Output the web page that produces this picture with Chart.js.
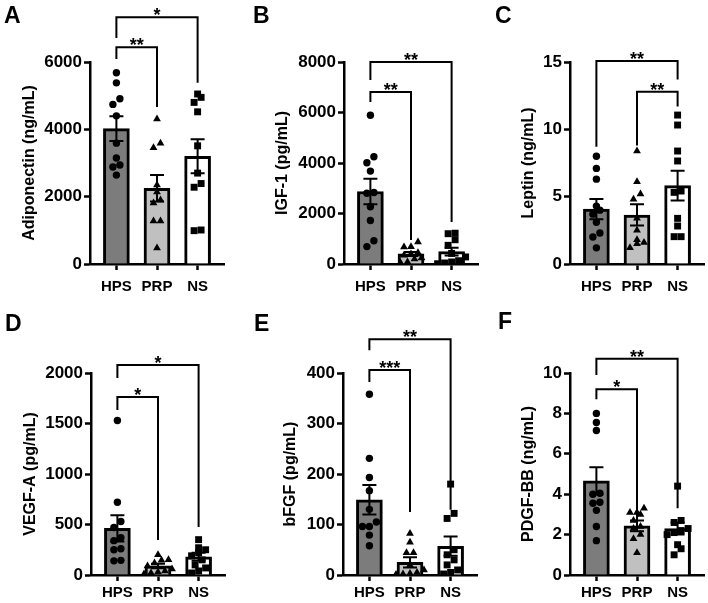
<!DOCTYPE html>
<html>
<head>
<meta charset="utf-8">
<script src="https://cdn.jsdelivr.net/npm/chart.js@4"></script>
<style>
html, body { margin: 0; padding: 0; background: #fff; overflow: hidden; }
#fig { position: relative; width: 708px; height: 603px; }
canvas { position: absolute; }
.tag { position: absolute; font: bold 23px "Liberation Sans", Arial, sans-serif; line-height: 23px; color: #000; }
</style>
</head>
<body>
<div id="fig"></div>
<script>
// --- Data ---
const groups = ['HPS', 'PRP', 'NS'];
const panelTags = ['A', 'B', 'C', 'D', 'E', 'F'];
const yTitles = ['Adiponectin (ng/mL)', 'IGF-1 (pg/mL)', 'Leptin (ng/mL)', 'VEGF-A (pg/mL)', 'bFGF (pg/mL)', 'PDGF-BB (ng/mL)'];
const yMax = [6000, 8000, 15, 2000, 400, 10];
const yStep = [2000, 2000, 5, 500, 100, 2];

// bar height = mean, error bar = SEM
const means = [
    [4020, 2250, 3200],
    [2870, 400, 490],
    [4.08, 3.64, 5.82],
    [461, 90, 181],
    [149, 25, 57],
    [4.66, 2.43, 2.3]
];
const sems = [
    [367, 396, 505],
    [505, 80, 150],
    [0.75, 0.79, 1.1],
    [130, 22, 40],
    [29, 10, 19],
    [0.68, 0.27, 0.3]
];

// individual samples per group (HPS, PRP, NS)
const adiponectin = [
    [5680, 5380, 4910, 4740, 4400, 3590, 3150, 2940, 2880, 2640],
    [4306, 3585, 3455, 2346, 2138, 1900, 1811, 1277, 1277, 475],
    [5050, 4950, 4800, 4520, 3510, 2700, 2390, 2280, 1010, 990]
];
const igf1 = [
    [5890, 4250, 4010, 3680, 2830, 2800, 2270, 1720, 920, 690],
    [870, 680, 670, 450, 400, 350, 240, 200, 80, 50],
    [1220, 1200, 960, 740, 420, 280, 130, 80, 40, 10]
];
const leptin = [
    [8.0, 7.1, 6.3, 4.3, 4.0, 3.7, 3.1, 2.3, 2.0, 1.2],
    [8.4, 6.1, 5.2, 4.8, 3.4, 2.5, 1.8, 1.6, 1.5, 1.2],
    [11.06, 10.32, 8.39, 7.65, 5.42, 5.32, 3.39, 2.82, 2.03, 2.03]
];
const vegfa = [
    [1530, 720, 530, 470, 370, 340, 260, 250, 145, 140],
    [200, 150, 145, 120, 90, 60, 40, 30, 20, 10],
    [350, 270, 250, 220, 190, 150, 100, 70, 40, 20]
];
const bfgf = [
    [358, 231, 193, 167, 130, 105, 96, 96, 79, 58],
    [82, 65, 44, 44, 20, 10, 5, 3, 2, 1],
    [180, 122, 112, 50, 40, 30, 20, 10, 5, 2]
];
const pdgfbb = [
    [8.0, 7.55, 7.15, 4.05, 4.0, 3.6, 3.55, 3.2, 2.4, 1.7],
    [3.3, 3.1, 3.1, 3.0, 2.7, 2.4, 2.3, 2.0, 1.8, 1.1],
    [4.4, 2.7, 2.6, 2.3, 2.2, 2.1, 2.0, 1.5, 1.3, 1.0]
];
const samples = [adiponectin, igf1, leptin, vegfa, bfgf, pdgfbb];

// significance brackets: groups joined, bracket level, leg ends (data units), label
const brackets = [
    [{ from: 0, to: 1, y: 6440, left: 6090, right: 4660, label: '**' }, { from: 0, to: 2, y: 7330, left: 6710, right: 5380, label: '*' }],
    [{ from: 0, to: 1, y: 6810, left: 6415, right: 950, label: '**' }, { from: 0, to: 2, y: 8000, left: 7290, right: 1660, label: '**' }],
    [{ from: 1, to: 2, y: 12.8, left: 8.8, right: 11.7, label: '**' }, { from: 0, to: 2, y: 15.07, left: 8.7, right: 13.7, label: '**' }],
    [{ from: 0, to: 1, y: 1762, left: 1634, right: 347, label: '*' }, { from: 0, to: 2, y: 2079, left: 1950, right: 475, label: '*' }],
    [{ from: 0, to: 1, y: 406, left: 382, right: 125, label: '***' }, { from: 0, to: 2, y: 467, left: 445, right: 129, label: '**' }],
    [{ from: 0, to: 1, y: 9.2, left: 8.7, right: 2.2, label: '*' }, { from: 0, to: 2, y: 10.7, left: 9.9, right: 3.3, label: '**' }]
];

// --- Styling / layout ---
const FONT = '"Liberation Sans", Arial, sans-serif';
const barColors = ['#7c7c7c', '#c0c0c0', '#ffffff'];
const markerStyles = ['circle', 'triangle', 'rect'];
const markerSizes = [3.7, 4.5, 4.9];
const axisLeft = [90, 344, 570, 91, 343, 570];
const titleCenter = [30, 283, 529, 31, 291, 529];
const tagPos = [[4, 4], [253, 4], [495, 4], [5, 312], [254, 312], [498, 310]];
const CANVAS_W = 250;
const AXIS_LEN = 134;

// error bars + significance brackets drawn on top of the datasets
const extrasPlugin = {
    id: 'extras',
    afterDatasetsDraw(chart, args, opts) {
        const { ctx, scales: { x, y } } = chart;
        ctx.save();
        ctx.strokeStyle = '#000';
        ctx.fillStyle = '#000';
        ctx.lineWidth = 2;
        opts.means.forEach((m, i) => {
            const cx = x.getPixelForValue(i);
            const hi = y.getPixelForValue(m + opts.sems[i]);
            const lo = y.getPixelForValue(m - opts.sems[i]);
            ctx.beginPath();
            ctx.moveTo(cx, hi); ctx.lineTo(cx, lo);
            ctx.moveTo(cx - 7, hi); ctx.lineTo(cx + 7, hi);
            ctx.moveTo(cx - 7, lo); ctx.lineTo(cx + 7, lo);
            ctx.stroke();
        });
        ctx.font = 'bold 18px ' + FONT;
        ctx.textAlign = 'center';
        ctx.textBaseline = 'alphabetic';
        opts.brackets.forEach(b => {
            const x1 = x.getPixelForValue(b.from), x2 = x.getPixelForValue(b.to);
            const yy = y.getPixelForValue(b.y);
            ctx.beginPath();
            ctx.moveTo(x1, y.getPixelForValue(b.left));
            ctx.lineTo(x1, yy);
            ctx.lineTo(x2, yy);
            ctx.lineTo(x2, y.getPixelForValue(b.right));
            ctx.stroke();
            ctx.fillText(b.label, (x1 + x2) / 2, yy + 4);
        });
        ctx.restore();
    }
};

// spread overlapping points sideways, Prism-style rows
function swarm(chart) {
    const xs = chart.scales.x, ys = chart.scales.y;
    const unit = xs.getPixelForValue(1) - xs.getPixelForValue(0);
    const gap = 7;
    const pts = chart.data.datasets[1].data;
    groups.forEach((g, gi) => {
        const list = pts.filter(p => p.g === gi).sort((a, b) => a.y - b.y);
        let row = [], y0 = 0;
        const flush = () => {
            row.forEach((p, k) => { p.x = gi + (k - (row.length - 1) / 2) * gap / unit; });
            row = [];
        };
        list.forEach(p => {
            const py = ys.getPixelForValue(p.y);
            if (row.length && Math.abs(py - y0) >= gap) flush();
            if (!row.length) y0 = py;
            row.push(p);
        });
        flush();
    });
    chart.update('none');
}

function buildPanel(p) {
    const rowIdx = p < 3 ? 0 : 1;
    const ox = (p % 3) * 236, oy = rowIdx * 300;
    const h = rowIdx ? 303 : 300;
    const top = rowIdx ? 73 : 62;
    const bottom = rowIdx ? 275 : 264;
    const yWidth = axisLeft[p] - ox;

    const canvas = document.createElement('canvas');
    canvas.width = CANVAS_W;
    canvas.height = h;
    canvas.style.left = ox + 'px';
    canvas.style.top = oy + 'px';
    document.getElementById('fig').appendChild(canvas);

    const tag = document.createElement('div');
    tag.className = 'tag';
    tag.textContent = panelTags[p];
    tag.style.left = tagPos[p][0] + 'px';
    tag.style.top = tagPos[p][1] + 'px';
    document.getElementById('fig').appendChild(tag);

    const pointData = [];
    samples[p].forEach((vals, gi) => vals.forEach(v => pointData.push({ x: gi, y: v, g: gi })));

    const xFont = { family: FONT, size: 15, weight: 'bold' };
    const yFont = { family: FONT, size: 17, weight: 'bold' };
    const chart = new Chart(canvas.getContext('2d'), {
        type: 'bar',
        data: {
            datasets: [{
                type: 'bar',
                data: means[p].map((m, i) => ({ x: i, y: m })),
                backgroundColor: barColors,
                borderColor: '#000',
                borderWidth: 3,
                barThickness: 26,
                order: 2
            }, {
                type: 'scatter',
                data: pointData,
                pointStyle: ctx => markerStyles[ctx.raw ? ctx.raw.g : 0],
                radius: ctx => markerSizes[ctx.raw ? ctx.raw.g : 0],
                backgroundColor: '#000',
                borderColor: '#000',
                borderWidth: 0,
                order: 1
            }]
        },
        options: {
            responsive: false,
            animation: false,
            devicePixelRatio: 1,
            layout: { padding: { left: 0, top: top, right: CANVAS_W - yWidth - AXIS_LEN, bottom: 0 } },
            plugins: {
                legend: { display: false },
                tooltip: { enabled: false },
                extras: { means: means[p], sems: sems[p], brackets: brackets[p] }
            },
            scales: {
                x: {
                    type: 'linear',
                    offset: false,
                    min: -0.65,
                    max: 2.65,
                    afterBuildTicks: s => { s.ticks = groups.map((g, i) => ({ value: i })); },
                    afterFit: s => { s.height = h - bottom; },
                    ticks: { callback: v => groups[v], font: xFont, color: '#000', padding: rowIdx ? 3 : 8, maxRotation: 0, autoSkip: false },
                    grid: { offset: false, drawOnChartArea: false, drawTicks: true, tickLength: 6, tickColor: '#000', tickWidth: 2.5 },
                    border: { display: true, color: '#000', width: 2.5 }
                },
                y: {
                    min: 0,
                    max: yMax[p],
                    afterFit: s => { s.width = yWidth; },
                    ticks: { stepSize: yStep[p], font: yFont, color: '#000', padding: 2, callback: v => String(v) },
                    grid: { drawOnChartArea: false, drawTicks: true, tickLength: 6, tickColor: '#000', tickWidth: 2.5 },
                    border: { display: true, color: '#000', width: 2.5 },
                    title: {
                        display: true,
                        text: yTitles[p],
                        color: '#000',
                        font: { family: FONT, size: 16, weight: 'bold' },
                        padding: { top: titleCenter[p] - ox - 9.6, bottom: 0 }
                    }
                }
            }
        },
        plugins: [extrasPlugin]
    });
    swarm(chart);
}

for (let p = 0; p < 6; p++) buildPanel(p);
</script>
</body>
</html>
